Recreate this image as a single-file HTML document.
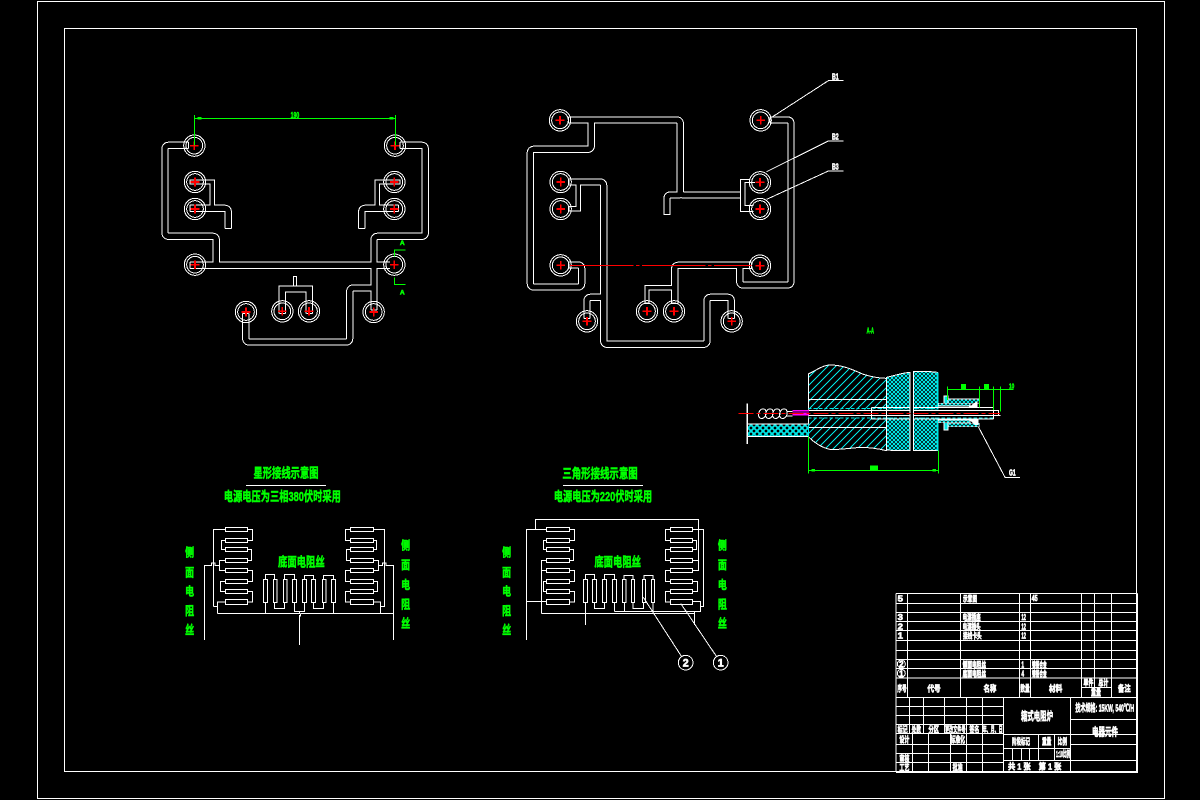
<!DOCTYPE html>
<html><head><meta charset="utf-8"><style>
html,body{margin:0;padding:0;background:#000;width:1200px;height:800px;overflow:hidden}
svg{display:block;shape-rendering:crispEdges}
.s{fill:none;stroke:#fff;stroke-width:3}
.g{fill:none;stroke:#00ff00;stroke-width:3}
text{font-family:"Liberation Sans","Noto Sans CJK SC",sans-serif;font-weight:bold;text-anchor:middle}
.tg{fill:#00ff00;stroke:#00ff00;stroke-width:1.6}
.tw{fill:#fff;stroke:#fff;stroke-width:2}
</style></head><body>
<svg width="1200" height="800" viewBox="0 0 1200 800" xmlns="http://www.w3.org/2000/svg">
<defs>
<g id="t"><circle r="32" fill="none" stroke="#fff" stroke-width="3"/><circle r="25" fill="none" stroke="#fff" stroke-width="3"/><path d="M-13 0H13M0 -13V13" stroke="#f00" stroke-width="5" fill="none"/></g>
<pattern id="dg" patternUnits="userSpaceOnUse" width="24" height="24"><path d="M-6 6L6 -6M0 24L24 0M18 30L30 18" stroke="#00e5e5" stroke-width="3"/></pattern>
<pattern id="xh" patternUnits="userSpaceOnUse" width="12" height="12"><rect width="12" height="12" fill="#000"/><path d="M0 0L12 12M12 0L0 12" stroke="#00e5e5" stroke-width="3"/></pattern>
<pattern id="xb" patternUnits="userSpaceOnUse" width="18" height="18"><path d="M0 0L18 18M18 0L0 18" stroke="#00e5e5" stroke-width="5"/></pattern>
<g id="wa" fill="none">
<path d="M115 136H57Q45 136 45 148V397Q45 409 57 409H187Q199 409 199 421V490"/>
<path d="M120 496H720"/>
<path d="M750 136H814Q826 136 826 148V397Q826 409 814 409H684Q672 409 672 421V490"/>
<path d="M672 500V630"/>
<path d="M672 564H611Q599 564 599 576V714Q599 726 587 726H299Q287 726 287 714V640"/>
<path d="M120 325H223Q235 325 235 337V385"/>
<path d="M745 325H647Q635 325 635 337V385"/>
<path d="M397 640V567H478V640"/>
</g>
<g id="wa2" fill="none"><path d="M120 246H187V318"/><path d="M750 246H682V318"/></g>
<g id="wb" fill="none">
<path d="M175 180H499Q511 180 511 192V394Q511 405 523 405H692"/>
<path d="M471 463V417Q471 405 483 405H511"/>
<path d="M244 180V256Q244 268 232 268H73Q61 268 61 280V669Q61 681 73 681H203Q215 681 215 669V627Q215 615 203 615H175"/>
<path d="M780 180H831Q843 180 843 192V663Q843 675 831 675H701Q689 675 689 663V622"/>
<path d="M725 616H506Q494 616 494 628V730"/>
<path d="M175 366H269Q281 366 281 378V841Q281 853 293 853H579Q591 853 591 841V724Q591 712 603 712H652Q664 712 664 724V775"/>
<path d="M281 712H243Q231 712 231 724V775"/>
</g>
<g id="wb2" fill="none"><path d="M411 730V683H490"/><path d="M175 446H205V372"/></g>
</defs>
<rect width="1200" height="800" fill="#000"/>
<rect x="37.5" y="1.5" width="1127" height="797" fill="none" stroke="#fff"/>
<rect x="64.5" y="28.5" width="1072" height="743" fill="none" stroke="#fff"/>

<!-- star wiring plate -->
<g transform="translate(150,100) scale(.33333)">
<use href="#wa" stroke="#fff" stroke-width="22"/><use href="#wa2" stroke="#fff" stroke-width="16"/>
<use href="#wa" stroke="#000" stroke-width="16"/><use href="#wa2" stroke="#000" stroke-width="10"/>
<path class="s" d="M225 385H245M625 385H645M430 558V530H440V558"/>
<path class="s" d="M115 126V146M120 486V506M120 315V335M745 315V335M750 126V146M120 238V254M750 238V254M388 640H406M469 640H487M663 630H681M278 640H296"/>
<use href="#t" x="133" y="137"/><use href="#t" x="735" y="137"/><use href="#t" x="135" y="246"/><use href="#t" x="733" y="246"/><use href="#t" x="135" y="327"/><use href="#t" x="733" y="327"/><use href="#t" x="135" y="494"/><use href="#t" x="733" y="494"/><use href="#t" x="288" y="636"/><use href="#t" x="397" y="634"/><use href="#t" x="477" y="634"/><use href="#t" x="671" y="636"/>
<path class="g" d="M133 45V137M737 45V137M133 55H737M733 470V450H767M733 533V553H767"/>
<path d="M142 51h12v8h-12zM719 51h12v8h-12z" fill="#0f0"/>
<text class="tg" x="435" y="54" font-size="24" textLength="26" lengthAdjust="spacingAndGlyphs">190</text>
<text class="tg" x="757" y="435" font-size="20">A</text><text class="tg" x="757" y="584" font-size="20">A</text>
</g>

<!-- delta wiring plate -->
<g transform="translate(510,60) scale(.33333)">
<use href="#wb" stroke="#fff" stroke-width="22"/><use href="#wb2" stroke="#fff" stroke-width="16"/>
<use href="#wb" stroke="#000" stroke-width="16"/><use href="#wb2" stroke="#000" stroke-width="10"/>
<path class="s" d="M460 463H482M720 358H692V454H730M735 368L705 368V437H730"/>
<path class="s" d="M175 171V189M780 171V189M725 607V625M175 606V624M175 357V375M485 730H503M655 775H673M222 775H240M403 730H419M175 438V454"/>
<use href="#t" x="150" y="181"/><use href="#t" x="752" y="181"/><use href="#t" x="152" y="366"/><use href="#t" x="750" y="367"/><use href="#t" x="152" y="447"/><use href="#t" x="750" y="447"/><use href="#t" x="152" y="616"/><use href="#t" x="750" y="617"/><use href="#t" x="231" y="784"/><use href="#t" x="411" y="754"/><use href="#t" x="492" y="754"/><use href="#t" x="665" y="784"/>
<path d="M180 617H725" stroke="#f00" stroke-width="3" stroke-dasharray="190 8 10 8" fill="none"/>
<path class="s" d="M785 172L955 62H1000M770 335L955 243H1000M770 418L955 333H1000"/>
<text class="tw" x="976" y="58" font-size="26" textLength="20" lengthAdjust="spacingAndGlyphs">B1</text>
<text class="tw" x="976" y="239" font-size="26" textLength="20" lengthAdjust="spacingAndGlyphs">B2</text>
<text class="tw" x="976" y="329" font-size="26" textLength="20" lengthAdjust="spacingAndGlyphs">B3</text>
</g>

<!-- section view -->
<g transform="translate(730,320) scale(.33333)">
<text class="tg" x="421" y="40" font-size="24" textLength="22" lengthAdjust="spacingAndGlyphs">A-A</text>
<path id="b1" d="M235 162C260 150 280 135 300 135C340 135 370 150 400 163C430 172 450 175 470 175V392C440 385 420 382 390 382C350 386 320 390 300 388C270 382 250 365 235 350Z" fill="url(#dg)" stroke="#fff" stroke-width="3"/>
<path d="M470 172C500 165 520 158 540 157V392H500L470 390Z" fill="url(#xh)" stroke="#fff" stroke-width="3"/>
<path d="M550 155Q580 152 622 157V392H550Z" fill="url(#xh)" stroke="#fff" stroke-width="3"/>
<path d="M623 157V392" stroke="#00e5e5" stroke-width="6"/>
<path class="s" d="M235 238H470M235 322H470"/>
<rect x="52" y="312" width="183" height="38" fill="url(#xb)" stroke="#00e5e5" stroke-width="3"/>
<path class="s" d="M52 312H235M52 350H235"/>
<path d="M52 250V372" stroke="#fff" stroke-width="4"/>
<path d="M235 268H805V292H235Z" fill="#000"/>
<path d="M235 266H620M235 294H790" fill="none" stroke="#00e5e5" stroke-width="3" stroke-dasharray="10 6"/>
<path class="s" d="M235 271H805V286H235M425 262H540M550 262H790M425 297H540M550 297H790M425 262V297M790 262V297M805 271V286H812M470 175V392M540 157V392M550 155V392"/>
<rect x="541" y="155" width="8" height="237" fill="#000"/>
<g fill="none" stroke="#fff" stroke-width="3">
<ellipse cx="97" cy="281" rx="11" ry="15" transform="rotate(20 97 281)"/>
<ellipse cx="118" cy="281" rx="11" ry="15" transform="rotate(20 118 281)"/>
<ellipse cx="139" cy="281" rx="11" ry="15" transform="rotate(20 139 281)"/>
<ellipse cx="160" cy="281" rx="11" ry="15" transform="rotate(20 160 281)"/>
<path d="M170 274H187M170 288H187"/>
</g>
<rect x="187" y="270" width="50" height="16" fill="#ff00ff"/>
<path d="M187 276H237" stroke="#000" stroke-width="4"/>
<path d="M25 280H810" stroke="#f00" stroke-width="3" stroke-dasharray="45 9 12 9"/>
<path d="M625 250H720V258H625ZM625 300H720V308H625Z" fill="url(#xh)" stroke="#fff" stroke-width="2"/>
<path d="M642 228H654V250H642ZM642 308H654V330H642Z" fill="#00e5e5" stroke="#fff" stroke-width="2"/>
<path d="M654 237H748V250H654ZM654 310H748V320H654Z" fill="url(#xh)" stroke="#fff" stroke-width="2"/>
<path d="M715 262L742 243V262ZM715 296H745V315H735Z" fill="#fff"/>
<path class="g" d="M652 200V240M652 208H850M748 200V262M790 200V270M811 200V275M235 350V460M625 392V460M235 451H625"/>
<rect x="245" y="447" width="10" height="8" fill="#0f0"/><rect x="608" y="447" width="10" height="8" fill="#0f0"/>
<rect x="420" y="436" width="24" height="15" fill="#0f0"/>
<rect x="693" y="192" width="15" height="16" fill="#0f0"/><rect x="762" y="192" width="15" height="16" fill="#0f0"/>
<text class="tg" x="845" y="206" font-size="22" textLength="16" lengthAdjust="spacingAndGlyphs">10</text>
<path class="s" d="M745 320L825 472H870"/>
<text class="tw" x="847" y="467" font-size="26" textLength="20" lengthAdjust="spacingAndGlyphs">G1</text>
</g>

<!-- star schematic -->
<g transform="translate(170,460) scale(.33333)">
<text class="tg" x="348" y="52" font-size="40" textLength="195" lengthAdjust="spacingAndGlyphs">星形接线示意图</text>
<path class="s" d="M228 76H468"/>
<text class="tg" x="337" y="123" font-size="40" textLength="351" lengthAdjust="spacingAndGlyphs">电源电压为三相380伏时采用</text>
<g class="s">
<rect x="166" y="202" width="67" height="13"/><rect x="166" y="235" width="67" height="13"/><rect x="166" y="262" width="67" height="13"/><rect x="166" y="295" width="67" height="13"/><rect x="166" y="325" width="67" height="13"/><rect x="166" y="358" width="67" height="13"/><rect x="166" y="388" width="67" height="13"/><rect x="166" y="419" width="67" height="14"/>
<rect x="541" y="202" width="70" height="13"/><rect x="541" y="235" width="70" height="13"/><rect x="541" y="262" width="70" height="13"/><rect x="541" y="295" width="70" height="13"/><rect x="541" y="325" width="70" height="13"/><rect x="541" y="358" width="70" height="13"/><rect x="541" y="388" width="70" height="13"/><rect x="541" y="419" width="70" height="14"/>
<rect x="280" y="358" width="13" height="70"/><rect x="310" y="358" width="11" height="70"/><rect x="340" y="358" width="11" height="70"/><rect x="367" y="358" width="13" height="70"/><rect x="397" y="358" width="13" height="70"/><rect x="424" y="358" width="13" height="70"/><rect x="457" y="358" width="11" height="70"/><rect x="484" y="358" width="13" height="70"/>
<path d="M130 440V208H166M233 208H248V241H233M166 241H154V268H166M233 268H245V301H233M166 301H148V331H166M233 331H248V364H233M166 364H151V394H166M233 394H248V426H233M166 426H142V460M130 440H142"/>
<path d="M103 540V316H124V309H135V316H148"/>
<path d="M142 460H388V455H405M392 460H670M388 465V555M392 460V468H388"/>
<path d="M611 208H644V440H631M541 208H526V241H541M611 241H620V268H611M541 268H529V301H541M611 301H626V331H611M541 331H526V364H541M611 364H623V394H611M541 394H526V426H541M611 426H631V460"/>
<path d="M626 316H638V309H648V316H670V540"/>
<path d="M286 358V344H314V358M343 358V344H374V358M403 358V347H431V358M460 358V347H491V358M286 428V460M314 428V445H344V428M373 428V455H404V428M431 428V445H461V428M491 428V460"/>
</g>
<text class="tg" x="394" y="320" font-size="40" textLength="140" lengthAdjust="spacingAndGlyphs">底面电阻丝</text>
<text class="tg" x="59" y="290" font-size="36" textLength="27" lengthAdjust="spacingAndGlyphs">侧</text><text class="tg" x="59" y="350" font-size="36" textLength="27" lengthAdjust="spacingAndGlyphs">面</text><text class="tg" x="59" y="407" font-size="36" textLength="27" lengthAdjust="spacingAndGlyphs">电</text><text class="tg" x="59" y="465" font-size="36" textLength="27" lengthAdjust="spacingAndGlyphs">阻</text><text class="tg" x="59" y="522" font-size="36" textLength="27" lengthAdjust="spacingAndGlyphs">丝</text>
<text class="tg" x="707" y="268" font-size="36" textLength="27" lengthAdjust="spacingAndGlyphs">侧</text><text class="tg" x="707" y="327" font-size="36" textLength="27" lengthAdjust="spacingAndGlyphs">面</text><text class="tg" x="707" y="387" font-size="36" textLength="27" lengthAdjust="spacingAndGlyphs">电</text><text class="tg" x="707" y="445" font-size="36" textLength="27" lengthAdjust="spacingAndGlyphs">阻</text><text class="tg" x="707" y="502" font-size="36" textLength="27" lengthAdjust="spacingAndGlyphs">丝</text>
</g>

<!-- delta schematic -->
<g transform="translate(490,460) scale(.33333)">
<text class="tg" x="330" y="54" font-size="40" textLength="226" lengthAdjust="spacingAndGlyphs">三角形接线示意图</text>
<path class="s" d="M219 76H459"/>
<text class="tg" x="339" y="123" font-size="40" textLength="295" lengthAdjust="spacingAndGlyphs">电源电压为220伏时采用</text>
<g class="s">
<rect x="169" y="202" width="70" height="13"/><rect x="169" y="235" width="70" height="13"/><rect x="169" y="262" width="70" height="13"/><rect x="169" y="295" width="70" height="13"/><rect x="169" y="325" width="70" height="13"/><rect x="169" y="358" width="70" height="13"/><rect x="169" y="388" width="70" height="13"/><rect x="169" y="419" width="70" height="14"/>
<rect x="541" y="202" width="67" height="13"/><rect x="541" y="235" width="67" height="13"/><rect x="541" y="262" width="67" height="13"/><rect x="541" y="295" width="67" height="13"/><rect x="541" y="325" width="67" height="13"/><rect x="541" y="358" width="67" height="13"/><rect x="541" y="388" width="67" height="13"/><rect x="541" y="419" width="67" height="14"/>
<rect x="280" y="358" width="13" height="70"/><rect x="307" y="358" width="13" height="70"/><rect x="337" y="358" width="13" height="70"/><rect x="367" y="358" width="13" height="70"/><rect x="397" y="358" width="11" height="70"/><rect x="424" y="358" width="10" height="70"/><rect x="457" y="358" width="10" height="70"/><rect x="484" y="358" width="10" height="70"/>
<path d="M109 540V208H169M239 208H254V241H239M169 241H160V268H169M239 268H250V301H239M169 301H154V460M154 331H169M239 331H254V364H239M169 364H160V394H169M239 394H254V426H239M169 424H109"/>
<path d="M136 208V178H625V331H608M608 301H625M608 208H640V440H632M541 208H526V241H541M608 241H620V268H608M541 268H526V301H541M541 331H526V364H541M608 364H623V394H608M541 394H526V426H541M608 424H632V455H373M154 460H614M613 455V495"/>
<path d="M286 358V344H313V358M343 358V344H373V358M402 358V347H429V358M462 358V347H489V358M286 428V495M313 428V445H343V428M373 428V455M403 428V455M429 428V445H461V428M489 428V460"/>
<path d="M460 412L575 590M572 430L680 590"/>
<circle cx="587" cy="608" r="22"/><circle cx="692" cy="608" r="22"/>
</g>
<text class="tw" x="587" y="620" font-size="32">2</text><text class="tw" x="692" y="620" font-size="32">1</text>
<text class="tg" x="383" y="320" font-size="40" textLength="140" lengthAdjust="spacingAndGlyphs">底面电阻丝</text>
<text class="tg" x="50" y="290" font-size="36" textLength="27" lengthAdjust="spacingAndGlyphs">侧</text><text class="tg" x="50" y="350" font-size="36" textLength="27" lengthAdjust="spacingAndGlyphs">面</text><text class="tg" x="50" y="407" font-size="36" textLength="27" lengthAdjust="spacingAndGlyphs">电</text><text class="tg" x="50" y="465" font-size="36" textLength="27" lengthAdjust="spacingAndGlyphs">阻</text><text class="tg" x="50" y="522" font-size="36" textLength="27" lengthAdjust="spacingAndGlyphs">丝</text>
<text class="tg" x="697" y="268" font-size="36" textLength="27" lengthAdjust="spacingAndGlyphs">侧</text><text class="tg" x="697" y="327" font-size="36" textLength="27" lengthAdjust="spacingAndGlyphs">面</text><text class="tg" x="697" y="387" font-size="36" textLength="27" lengthAdjust="spacingAndGlyphs">电</text><text class="tg" x="697" y="445" font-size="36" textLength="27" lengthAdjust="spacingAndGlyphs">阻</text><text class="tg" x="697" y="502" font-size="36" textLength="27" lengthAdjust="spacingAndGlyphs">丝</text>
</g>

<!-- title block: parts list -->
<g transform="translate(890,590) scale(.33333)">
<path class="s" d="M18 10H742M18 40H742M18 67H742M18 95H742M18 122H742M18 151H742M18 181H742M18 208H742M18 236H742M18 264H742M18 10V322M52 10V322M211 10V322M388 10V322M421 10V322M574 10V322M613 10V292M664 10V322M742 10V322M574 292H664"/>
<g class="tw" font-size="24">
<text x="31" y="34" textLength="16" lengthAdjust="spacingAndGlyphs">5</text><text x="240" y="34" textLength="42" lengthAdjust="spacingAndGlyphs">示意图</text><text x="434" y="33" textLength="18" lengthAdjust="spacingAndGlyphs">45</text>
<text x="31" y="90" textLength="16" lengthAdjust="spacingAndGlyphs">3</text><text x="245" y="90" textLength="54" lengthAdjust="spacingAndGlyphs">电源插座</text><text x="401" y="90" textLength="14" lengthAdjust="spacingAndGlyphs">12</text>
<text x="31" y="118" textLength="16" lengthAdjust="spacingAndGlyphs">2</text><text x="245" y="118" textLength="54" lengthAdjust="spacingAndGlyphs">电源插头</text><text x="401" y="118" textLength="14" lengthAdjust="spacingAndGlyphs">12</text>
<text x="31" y="146" textLength="16" lengthAdjust="spacingAndGlyphs">1</text><text x="247" y="146" textLength="56" lengthAdjust="spacingAndGlyphs">接线卡头</text><text x="401" y="146" textLength="14" lengthAdjust="spacingAndGlyphs">12</text>
<text x="34" y="231">2</text><text x="253" y="232" textLength="70" lengthAdjust="spacingAndGlyphs">侧面电阻丝</text><text x="398" y="232" textLength="8" lengthAdjust="spacingAndGlyphs">1</text><text x="448" y="232" textLength="44" lengthAdjust="spacingAndGlyphs">镍铬合金</text>
<text x="34" y="259">1</text><text x="253" y="260" textLength="70" lengthAdjust="spacingAndGlyphs">底面电阻丝</text><text x="398" y="260" textLength="8" lengthAdjust="spacingAndGlyphs">4</text><text x="448" y="260" textLength="44" lengthAdjust="spacingAndGlyphs">镍铬合金</text>
</g>
<circle class="s" cx="34" cy="222" r="12"/><circle class="s" cx="34" cy="250" r="12"/>
</g>

<!-- title block: main -->
<g transform="translate(890,680) scale(.33333)">
<path class="s" d="M18 52H742M18 79H340M18 106H340M18 133H340M18 161H340M18 193H340M18 220H340M18 247H340M18 275H742M18 0V275M58 52V161M100 52V161M163 52V161M229 52V275M277 52V275M68 161V275M115 161V275M181 161V275M340 52V275M541 52V275M742 0V275M340 163H742M340 205H541M340 241H742M445 163V241M493 163V241M368 205V241M394 205V241M418 205V241M541 118H742M541 193H742"/>
<path d="M18 276H744" stroke="#fff" stroke-width="5"/>
<g class="tw" font-size="26">
<text x="36" y="34" textLength="28" lengthAdjust="spacingAndGlyphs">序号</text><text x="132" y="34" textLength="40" lengthAdjust="spacingAndGlyphs">代号</text><text x="300" y="34" textLength="38" lengthAdjust="spacingAndGlyphs">名称</text><text x="405" y="34" textLength="28" lengthAdjust="spacingAndGlyphs">数量</text><text x="497" y="34" textLength="40" lengthAdjust="spacingAndGlyphs">材料</text><text x="595" y="16" textLength="30" lengthAdjust="spacingAndGlyphs">单件</text><text x="640" y="16" textLength="30" lengthAdjust="spacingAndGlyphs">总计</text><text x="618" y="46" textLength="30" lengthAdjust="spacingAndGlyphs">重量</text><text x="703" y="34" textLength="38" lengthAdjust="spacingAndGlyphs">备注</text>
<text x="38" y="158" textLength="30" lengthAdjust="spacingAndGlyphs">标记</text><text x="79" y="158" textLength="28" lengthAdjust="spacingAndGlyphs">处数</text><text x="131" y="158" textLength="32" lengthAdjust="spacingAndGlyphs">分区</text><text x="196" y="158" textLength="62" lengthAdjust="spacingAndGlyphs">更改文件号</text><text x="253" y="158" textLength="30" lengthAdjust="spacingAndGlyphs">签名</text><text x="308" y="158" textLength="60" lengthAdjust="spacingAndGlyphs">年、月、日</text>
<text x="43" y="187" textLength="30" lengthAdjust="spacingAndGlyphs">设计</text><text x="203" y="187" textLength="44" lengthAdjust="spacingAndGlyphs">标准化</text>
<text x="43" y="244" textLength="30" lengthAdjust="spacingAndGlyphs">审核</text><text x="43" y="271" textLength="30" lengthAdjust="spacingAndGlyphs">工艺</text><text x="203" y="271" textLength="30" lengthAdjust="spacingAndGlyphs">批准</text>
<text x="393" y="193" textLength="54" lengthAdjust="spacingAndGlyphs">阶段标记</text><text x="470" y="193" textLength="28" lengthAdjust="spacingAndGlyphs">重量</text><text x="517" y="193" textLength="28" lengthAdjust="spacingAndGlyphs">比例</text>
<text x="519" y="231" textLength="42" lengthAdjust="spacingAndGlyphs">1:10比例</text>
<text x="388" y="268" textLength="68" lengthAdjust="spacingAndGlyphs">共 1 张</text><text x="480" y="268" textLength="68" lengthAdjust="spacingAndGlyphs">第 1 张</text>
</g>
<text class="tw" x="441" y="120" font-size="34" textLength="96" lengthAdjust="spacingAndGlyphs">箱式电阻炉</text>
<text class="tw" x="644" y="95" font-size="30" textLength="176" lengthAdjust="spacingAndGlyphs">技术规格: 15KW, 540℃/H</text>
<text class="tw" x="645" y="166" font-size="32" textLength="78" lengthAdjust="spacingAndGlyphs">电器元件</text>
</g>
</svg>
</body></html>
